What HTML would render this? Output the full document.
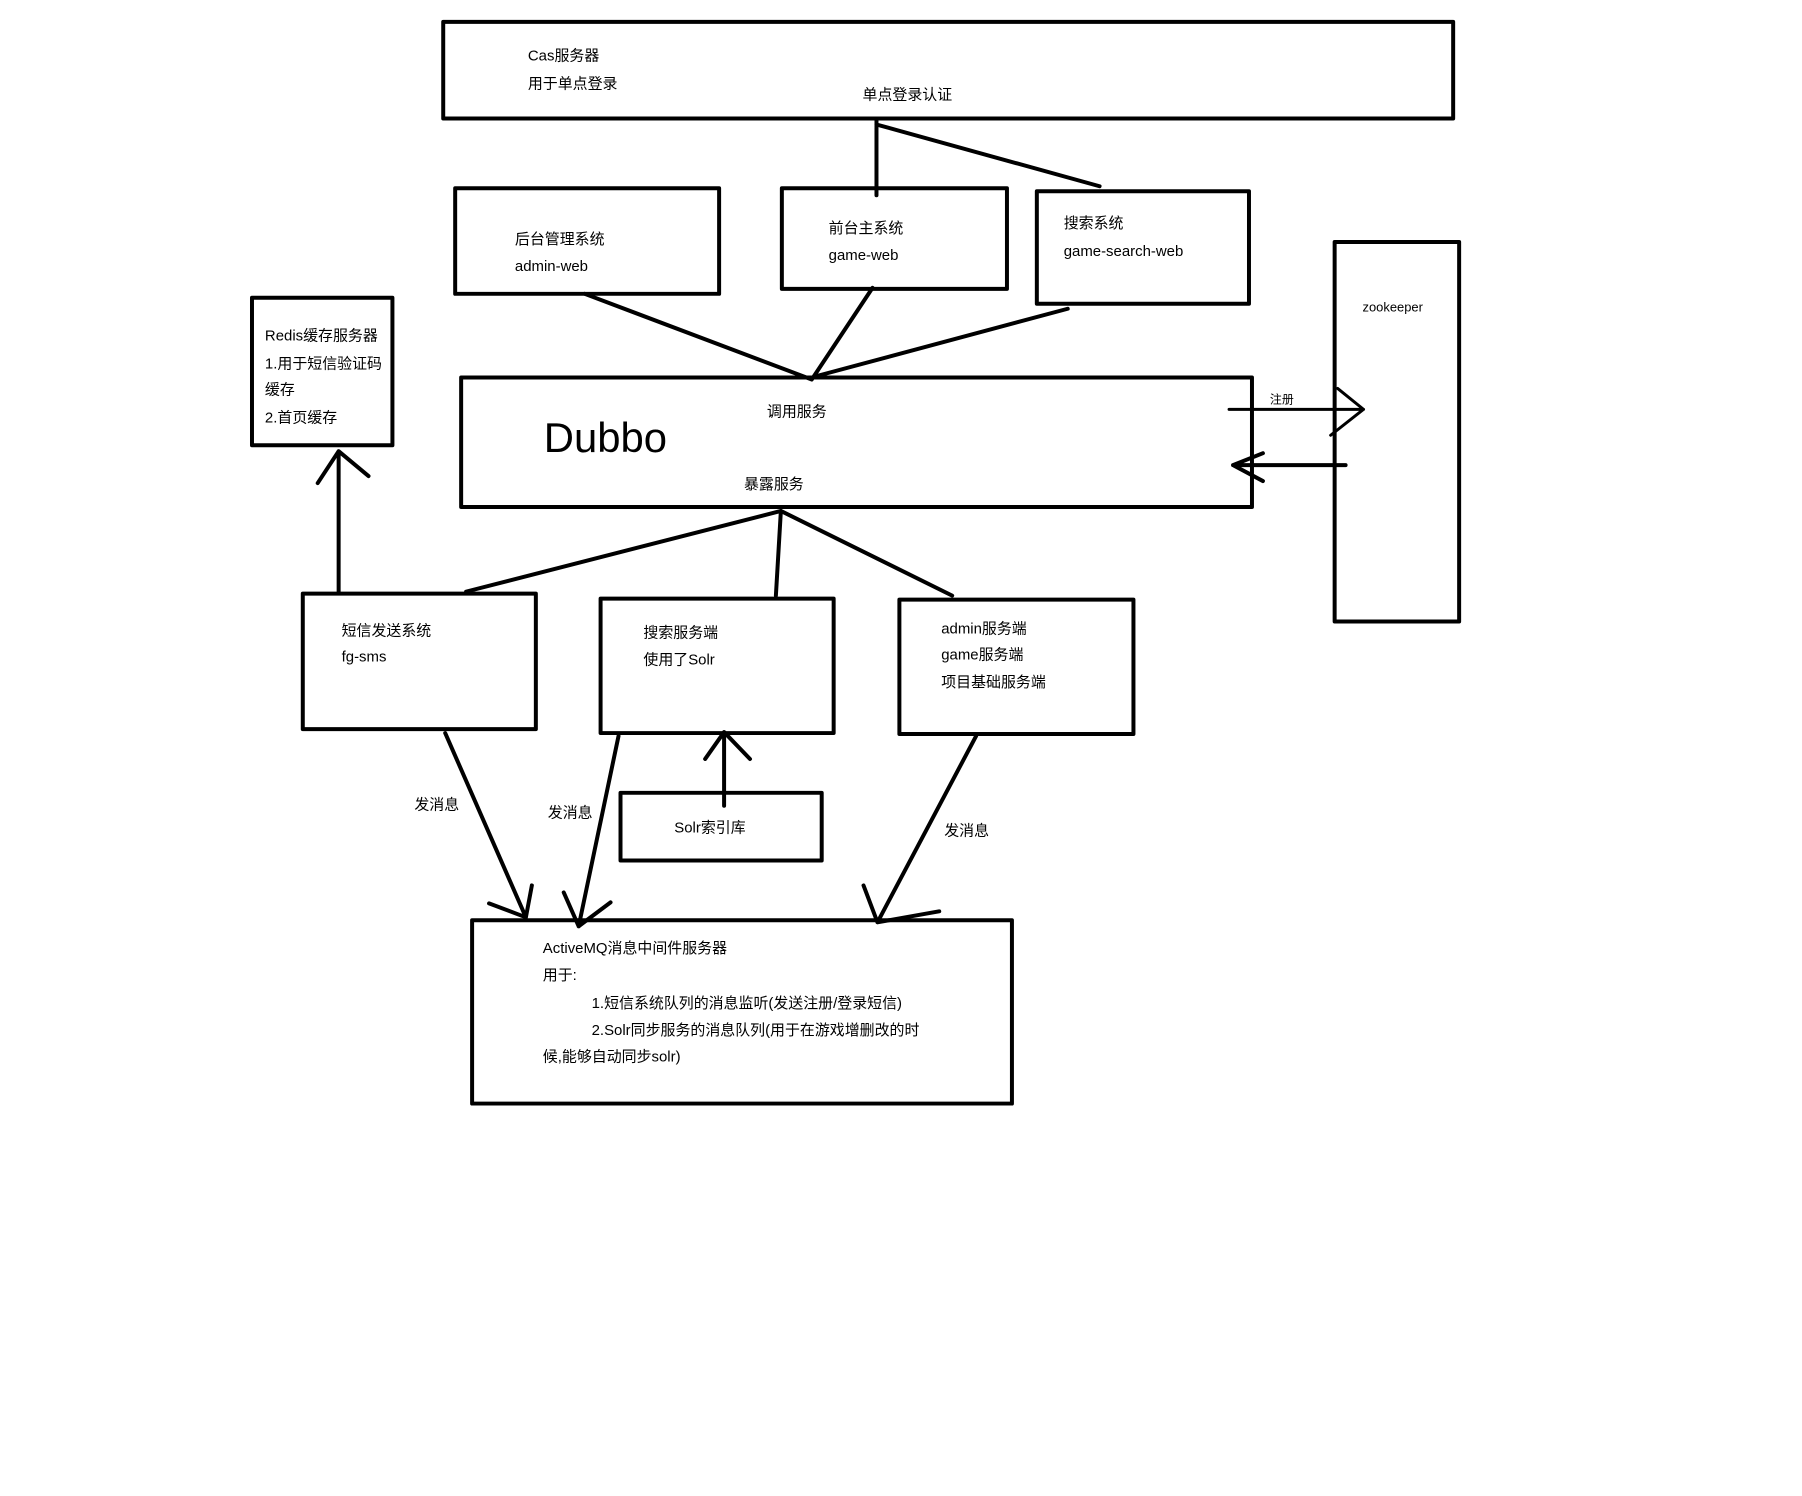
<!DOCTYPE html>
<html><head><meta charset="utf-8"><style>body{margin:0;background:#fff}svg{display:block}text{font-family:"Liberation Sans","Noto Sans CJK SC",sans-serif;font-size:15px;fill:#000}</style></head><body>
<svg width="1802" height="1496" viewBox="0 0 1802 1496" xmlns="http://www.w3.org/2000/svg">
<g transform="scale(0.996)">
<g fill="none" stroke="#000" stroke-width="4" stroke-linecap="round" stroke-linejoin="round">
<rect x="445" y="22" width="1014" height="97"/>
<rect x="457" y="189" width="265" height="106"/>
<rect x="785" y="189" width="226" height="101"/>
<rect x="1041" y="192" width="213" height="113"/>
<rect x="1340" y="243" width="125" height="381"/>
<rect x="253" y="299" width="141" height="148"/>
<rect x="463" y="379" width="794" height="130"/>
<rect x="304" y="596" width="234" height="136"/>
<rect x="603" y="601" width="234" height="135"/>
<rect x="903" y="602" width="235" height="135"/>
<rect x="623" y="796" width="202" height="68"/>
<rect x="474" y="924" width="542" height="184"/>
<path d="M880 121V196M880 125L1104 187"/>
<path d="M587 295L815 381M876 289L815 381M1072 310L822 377"/>
<path d="M1234 411H1369M1343 390L1369 411L1336 437" stroke-width="3"/>
<path d="M1351 467H1238M1268 455L1238 467L1268 483"/>
<path d="M784 513L468 594M784 513L779 598M784 513L956 598"/>
<path d="M340 594V453M319 485L340 453L370 478"/>
<path d="M727 809V735M708 762L727 735L753 762"/>
<path d="M447 736L528 921M491 907L528 921L534 889"/>
<path d="M621 739L581 930M566 896L581 930L613 906"/>
<path d="M980 739L881 926M867 889L881 926L943 915"/>
</g>
<text x="530" y="61">Cas服务器</text>
<text x="530" y="89">用于单点登录</text>
<text x="866" y="100">单点登录认证</text>
<text x="517" y="245">后台管理系统</text>
<text x="517" y="272">admin-web</text>
<text x="832" y="234">前台主系统</text>
<text x="832" y="261">game-web</text>
<text x="1068" y="229">搜索系统</text>
<text x="1068" y="257">game-search-web</text>
<text x="1368" y="313" style="font-size:13px">zookeeper</text>
<text x="266" y="342">Redis缓存服务器</text>
<text x="266" y="370">1.用于短信验证码</text>
<text x="266" y="396">缓存</text>
<text x="266" y="424">2.首页缓存</text>
<text x="546" y="454" style="font-size:42px">Dubbo</text>
<text x="770" y="418">调用服务</text>
<text x="747" y="491">暴露服务</text>
<text x="1275" y="405" style="font-size:12px">注册</text>
<text x="343" y="638">短信发送系统</text>
<text x="343" y="664">fg-sms</text>
<text x="646" y="640">搜索服务端</text>
<text x="646" y="667">使用了Solr</text>
<text x="945" y="636">admin服务端</text>
<text x="945" y="662">game服务端</text>
<text x="945" y="690">项目基础服务端</text>
<text x="677" y="836">Solr索引库</text>
<text x="416" y="813">发消息</text>
<text x="550" y="821">发消息</text>
<text x="948" y="839">发消息</text>
<text x="545" y="957">ActiveMQ消息中间件服务器</text>
<text x="545" y="984">用于:</text>
<text x="594" y="1012">1.短信系统队列的消息监听(发送注册/登录短信)</text>
<text x="594" y="1039">2.Solr同步服务的消息队列(用于在游戏增删改的时</text>
<text x="545" y="1066">候,能够自动同步solr)</text>
</g>
</svg>
</body></html>
